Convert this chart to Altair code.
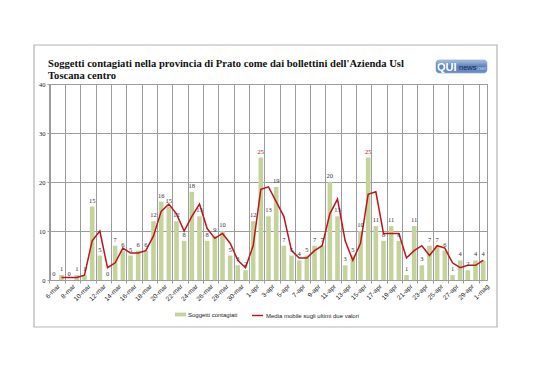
import altair as alt
import pandas as pd

date = ["6-mar", "7-mar", "8-mar", "9-mar", "10-mar", "11-mar", "12-mar", "13-mar",
        "14-mar", "15-mar", "16-mar", "17-mar", "18-mar", "19-mar", "20-mar", "21-mar",
        "22-mar", "23-mar", "24-mar", "25-mar", "26-mar", "27-mar", "28-mar", "29-mar",
        "30-mar", "31-mar",
        "1-apr", "2-apr", "3-apr", "4-apr", "5-apr", "6-apr", "7-apr", "8-apr", "9-apr",
        "10-apr", "11-apr", "12-apr", "13-apr", "14-apr", "15-apr", "16-apr", "17-apr",
        "18-apr", "19-apr", "20-apr", "21-apr", "22-apr", "23-apr", "24-apr", "25-apr",
        "26-apr", "27-apr", "28-apr", "29-apr", "30-apr",
        "1-mag"]

contagiati = [0, 1, 0, 1, 1, 15, 5, 0, 7, 6, 5, 6, 6, 12, 16, 15, 12, 8, 18, 13, 8, 9, 10, 5, 3, 2,
              12, 25, 13, 19, 7, 5, 4, 5, 7, 7, 20, 13, 3, 5, 10, 25, 11, 8, 11, 8, 1, 11, 3, 7, 7,
              6, 1, 4, 2, 4,
              4]

media_mobile = [None, 0.5, 0.5, 0.5, 1, 8, 10, 2.5, 3.5, 6.5, 5.5, 5.5, 6, 9, 14, 15.5, 13.5, 10,
                13, 15.5, 10.5, 8.5, 9.5, 7.5, 4, 2.5,
                7, 18.5, 19, 16, 13, 6, 4.5, 4.5, 6, 7, 13.5, 16.5, 8, 4, 7.5, 17.5, 18, 9.5, 9.5,
                9.5, 4.5, 6, 7, 5, 7, 6.5, 3.5, 2.5, 3, 3,
                4]

tick_labels = date[::2]
y_ticks = [0, 5, 10, 15, 20, 25, 30, 35, 40]

title_lines = ["Soggetti contagiati nella provincia di Prato come dai bollettini dell'Azienda Usl",
               "Toscana centro"]
serie_barre = "Soggetti contagiati"
serie_linea = "Media mobile sugli ultimi due valori"

df = pd.DataFrame({"data": date, "contagiati": contagiati, "media": media_mobile})
df["serie_b"] = serie_barre
df["serie_l"] = serie_linea

W, H = 437, 196
GREEN = "#c4d39c"
RED = "#c0141c"
GRID = "#9c9c9c"
SANS = "Liberation Sans"
SERIF = "Liberation Serif"

x_enc = alt.X(
    "data:N", sort=date,
    scale=alt.Scale(paddingInner=0.4, paddingOuter=0.2),
    axis=alt.Axis(values=tick_labels, bandPosition=-1 / 3, labelOffset=5, labelAngle=-45,
                  labelAlign="right", labelBaseline="middle", labelFontSize=6.5, labelFont=SANS,
                  labelColor="#222222", labelOverlap=False, labelFlush=False, labelPadding=2,
                  grid=True, gridColor=GRID, tickColor=GRID, tickSize=3, domainColor=GRID,
                  title=None),
)
y_scale = alt.Scale(domain=[0, 40], nice=False)
y_axis = alt.Axis(values=y_ticks, labelFont=SERIF, labelFontSize=6.5, labelColor="#222222",
                  labelPadding=2, gridColor=GRID, tickColor=GRID, tickSize=3,
                  domainColor=GRID, title=None)

base = alt.Chart(df)

bars = base.mark_bar().encode(
    x=x_enc,
    y=alt.Y("contagiati:Q", scale=y_scale, axis=y_axis),
    fill=alt.Fill("serie_b:N", scale=alt.Scale(range=[GREEN]),
                  legend=alt.Legend(title=None, orient="none", legendX=125, legendY=225,
                                    symbolType="M-1,-0.35L1,-0.35L1,0.35L-1,0.35Z",
                                    symbolSize=121, symbolStrokeWidth=0, labelFont=SANS,
                                    labelFontSize=6, labelColor="#222222", labelOffset=2,
                                    padding=0)),
)

line = base.mark_line(strokeWidth=1.5).encode(
    x=alt.X("data:N", sort=date),
    y=alt.Y("media:Q", scale=y_scale),
    stroke=alt.Stroke("serie_l:N", scale=alt.Scale(range=[RED]),
                      legend=alt.Legend(title=None, orient="none", legendX=201, legendY=225,
                                        symbolType="stroke", symbolSize=121,
                                        symbolStrokeWidth=1.5, labelFont=SANS, labelFontSize=6,
                                        labelColor="#222222", labelOffset=2, padding=0)),
)

labels = base.mark_text(baseline="bottom", dy=-3, font=SERIF, fontSize=6.5).encode(
    x=alt.X("data:N", sort=date),
    y=alt.Y("contagiati:Q", scale=y_scale),
    text=alt.Text("contagiati:Q"),
    color=alt.condition(alt.datum.contagiati >= 25, alt.value(RED), alt.value("#333333")),
)

one = alt.Data(values=[{"k": 1}])
border = alt.Chart(one).mark_rect(fill="transparent", stroke="#b4b4b4", strokeWidth=1.2).encode(
    x=alt.value(-16), x2=alt.value(447), y=alt.value(-39), y2=alt.value(243))

logo_box = alt.Chart(one).mark_rect(
    cornerRadius=3, stroke="#8aa3cc", strokeWidth=0.6,
    fill=alt.Gradient(gradient="linear", x1=0, y1=0, x2=0, y2=1,
                      stops=[alt.GradientStop(color="#a9c0e4", offset=0),
                             alt.GradientStop(color="#5d80b8", offset=0.5),
                             alt.GradientStop(color="#6f90c6", offset=1)]),
).encode(x=alt.value(386), x2=alt.value(437), y=alt.value(-24), y2=alt.value(-11))
logo_qui = alt.Chart(one).mark_text(text="QUI", font=SANS, fontWeight="bold", fontSize=11,
                                    align="left", baseline="alphabetic", color="white").encode(
    x=alt.value(387), y=alt.value(-13))
logo_news = alt.Chart(one).mark_text(text="news", font=SANS, fontSize=7.5, align="left",
                                     baseline="alphabetic", color="#1c2c5a").encode(
    x=alt.value(409), y=alt.value(-14))
logo_net = alt.Chart(one).mark_text(text=".net", font=SANS, fontSize=6, align="left",
                                    baseline="alphabetic", color="#b8c9e6").encode(
    x=alt.value(426), y=alt.value(-14))

chart = alt.layer(border, bars, line, labels, logo_box, logo_qui, logo_news, logo_net).properties(
    width=W, height=H,
    autosize=alt.AutoSizeParams(type="none"),
    padding={"left": 42, "top": 76, "right": 43, "bottom": 92},
    background="white",
    title=alt.TitleParams(text=title_lines, anchor="start", frame="group", font=SERIF,
                          fontSize=10.6, fontWeight="bold", color="#111111", lineHeight=12,
                          offset=5, dx=-2, dy=42),
).configure_view(stroke=GRID, strokeWidth=1)

chart.save("out.html", embed_options={"renderer": "svg", "actions": False})
